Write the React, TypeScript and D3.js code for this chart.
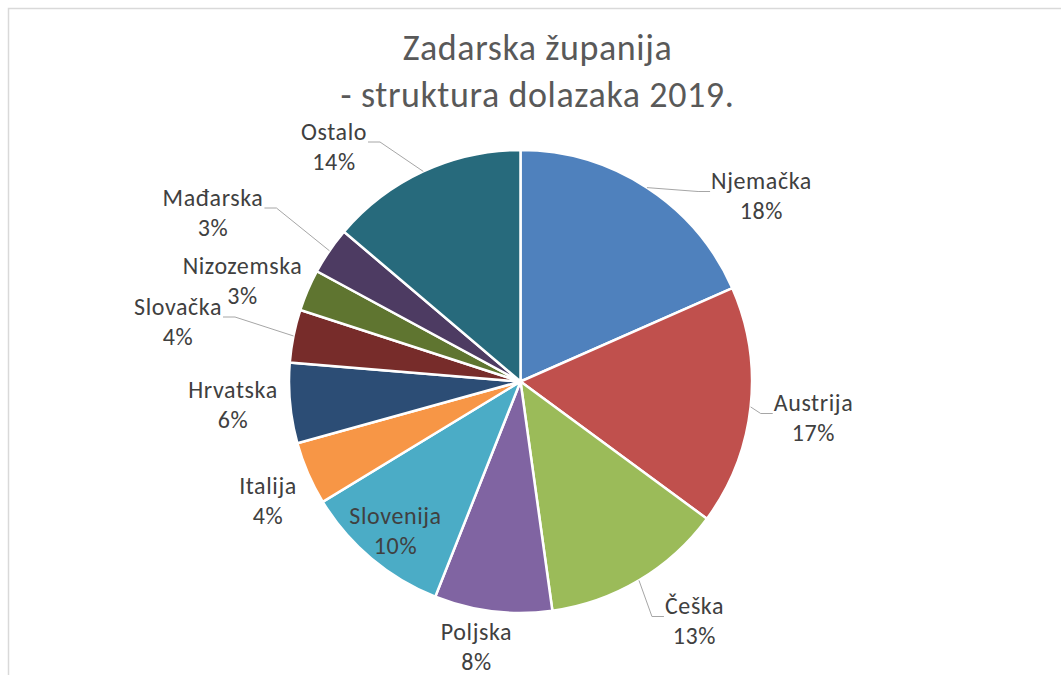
import React, { useEffect, useRef } from "react";
import * as d3 from "d3";

const countries = ["Njemačka", "Austrija", "Češka", "Poljska", "Slovenija", "Italija", "Hrvatska", "Slovačka", "Nizozemska", "Mađarska", "Ostalo"];
const shares = [18.4, 16.7, 12.7, 8.2, 10.3, 4.4, 5.6, 3.7, 2.9, 3.3, 13.8];
const colors = ["#4F81BD", "#C0504D", "#9BBB59", "#8064A2", "#4BACC6", "#F79646", "#2C4D75", "#772C2A", "#5F7530", "#4D3B62", "#276A7C"];
const titleLines = ["Zadarska županija", "- struktura dolazaka 2019."];

// label centre offset from pie centre, and which labels get a leader line ("r" = text right of anchor)
const labelOffset: [number, number][] = [
  [241, -183], [293, 39], [174, 242], [-44, 267.5], [-125, 151.5], [-252.5, 121.5],
  [-287.5, 25.5], [-342.5, -57.5], [-278, -98], [-307.5, -166.5], [-186.5, -232.5],
];
const leaderSide = ["r", "r", "r", "", "", "", "", "l", "", "l", "l"];

const FONT = "Carlito, Calibri, Lato, 'Open Sans', sans-serif";

export default function App() {
  const ref = useRef<SVGSVGElement>(null);
  const width = 1061;
  const height = 675;

  useEffect(() => {
    const svg = d3.select(ref.current);
    svg.selectAll("*").remove();

    // chart frame
    svg.append("rect")
      .attr("x", 8.5).attr("y", 8.5)
      .attr("width", width + 20).attr("height", height + 20)
      .attr("fill", "#fff").attr("stroke", "#d9d9d9").attr("stroke-width", 1.5);

    const cx = 520.5, cy = 381.5, radius = 231.5;

    svg.append("text")
      .attr("text-anchor", "middle")
      .style("font-family", FONT).style("font-size", "36px").style("letter-spacing", "0.6px")
      .attr("fill", "#595959")
      .selectAll("tspan").data(titleLines).join("tspan")
      .attr("x", cx + 17)
      .attr("y", (d, i) => 51 + i * 47)
      .attr("dominant-baseline", "middle")
      .text(d => d);

    const data = countries.map((c, i) => ({ name: c, value: shares[i], i }));
    const total = d3.sum(shares);
    const pie = d3.pie<any>().sort(null).value(d => d.value);
    const arcs = pie(data);
    const arc = d3.arc<any>().innerRadius(0).outerRadius(radius);

    const g = svg.append("g").attr("transform", `translate(${cx},${cy})`);

    g.selectAll("path")
      .data(arcs)
      .join("path")
      .attr("d", arc)
      .attr("fill", d => colors[d.data.i])
      .attr("stroke", "#fff")
      .style("stroke-width", "2.5px");

    const labels = g.selectAll("g.lbl")
      .data(arcs)
      .join("g")
      .attr("class", "lbl");

    labels.each(function (d) {
      const [lx, ly] = labelOffset[d.data.i];
      const sel = d3.select(this);
      const t = sel.append("text")
        .attr("text-anchor", "middle")
        .style("font-family", FONT).style("font-size", "24px").style("letter-spacing", "0.6px")
        .attr("fill", "#404040");
      const first = t.append("tspan")
        .attr("x", lx).attr("y", ly - 15)
        .attr("dominant-baseline", "middle")
        .text(d.data.name);
      t.append("tspan")
        .attr("x", lx).attr("y", ly + 15)
        .attr("dominant-baseline", "middle")
        .text(Math.round(d.data.value / total * 100) + "%");

      const side = leaderSide[d.data.i];
      if (side) {
        const w = (first.node() as SVGTSpanElement).getComputedTextLength();
        const mid = (d.startAngle + d.endAngle) / 2;
        const ex = radius * Math.sin(mid), ey = -radius * Math.cos(mid);
        const ax = side === "r" ? lx - w / 2 - 1 : lx + w / 2 + 1;
        const ay = ly - 15 + 8;
        const bx = side === "r" ? ax - 12 : ax + 12;
        sel.insert("path", "text")
          .attr("d", d3.line()([[ex, ey], [bx, ay], [ax, ay]]))
          .attr("fill", "none")
          .attr("stroke", "#a6a6a6")
          .attr("stroke-width", 1);
      }
    });
  }, []);

  return (
    <svg ref={ref} width={width} height={height}
      style={{ position: "absolute", left: 0, top: 0 }} />
  );
}
